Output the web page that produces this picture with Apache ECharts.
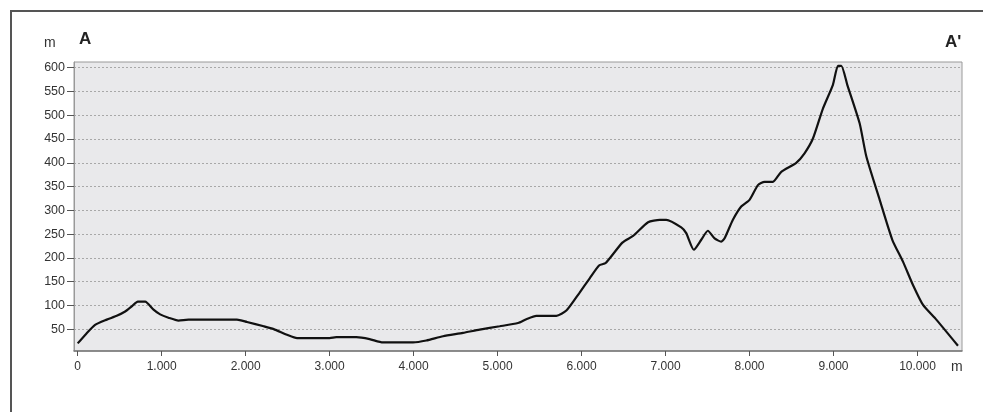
<!DOCTYPE html>
<html>
<head>
<meta charset="utf-8">
<script src="https://cdn.jsdelivr.net/npm/echarts@6/dist/echarts.min.js"></script>
<style>
html,body{margin:0;padding:0;background:#fff;}
#c{width:983px;height:412px;}
</style>
</head>
<body>
<div id="c"></div>
<script>
const distance = [0, 100, 207, 346, 465, 565, 644, 716, 803, 903, 982, 1081, 1200, 1320, 1459, 1896, 2016, 2215, 2334, 2493, 2612, 3000, 3080, 3318, 3476, 3635, 3993, 4151, 4350, 4588, 4787, 5025, 5243, 5342, 5461, 5700, 5819, 5977, 6097, 6208, 6287, 6486, 6613, 6792, 6931, 7008, 7187, 7246, 7337, 7425, 7504, 7584, 7663, 7703, 7802, 7901, 8000, 8100, 8179, 8278, 8378, 8556, 8655, 8755, 8874, 8993, 9053, 9093, 9164, 9311, 9391, 9550, 9700, 9827, 9946, 10066, 10224, 10482];
const elevation = [20, 40, 59, 70, 78, 87, 98, 108, 108, 91, 81, 74, 68, 70, 70, 70, 65, 56, 50, 38, 31, 31, 33, 33, 29, 22, 22, 26, 35, 42, 49, 56, 63, 71, 78, 78, 89, 127, 157, 184, 189, 232, 246, 275, 280, 280, 264, 252, 217, 238, 257, 241, 234, 241, 280, 308, 322, 353, 360, 360, 381, 400, 420, 451, 514, 564, 604, 604, 564, 483, 413, 322, 238, 192, 143, 101, 70, 15];
const xTicks = [0, 1000, 2000, 3000, 4000, 5000, 6000, 7000, 8000, 9000, 10000];
const yTicks = [50, 100, 150, 200, 250, 300, 350, 400, 450, 500, 550, 600];
const startLabel = 'A';
const endLabel = "A'";
const unit = 'm';

const chart = echarts.init(document.getElementById('c'), null, {renderer: 'canvas'});
const font = 'Liberation Sans, Arial, sans-serif';
chart.setOption({
  animation: false,
  backgroundColor: '#ffffff',
  grid: {
    left: 74, top: 62, width: 888, height: 289,
    show: true, backgroundColor: '#e9e9eb', borderColor: '#9a9a9a', borderWidth: 1,
    containLabel: false
  },
  xAxis: {
    type: 'value', min: -44, max: 10530,
    axisLine: {show: true, onZero: false, lineStyle: {color: '#777', width: 1.5}},
    axisTick: {show: true, length: 5, customValues: xTicks, lineStyle: {color: '#555'}},
    axisLabel: {
      customValues: xTicks, margin: 10, color: '#333', fontSize: 12, fontFamily: font,
      formatter: v => v === 0 ? '0' : (v / 1000).toFixed(3)
    },
    splitLine: {show: false}
  },
  yAxis: {
    type: 'value', min: 4, max: 612,
    axisLine: {show: true, onZero: false, lineStyle: {color: '#999'}},
    axisTick: {show: true, length: 7, customValues: yTicks, lineStyle: {color: '#555'}},
    axisLabel: {customValues: yTicks, margin: 9, color: '#333', fontSize: 12.5, fontFamily: font},
    splitLine: {show: true, lineStyle: {color: '#a8a8a8', type: [2, 2], width: 1}}
  },
  graphic: [
    {type: 'rect', shape: {x: 11, y: 11, width: 990, height: 420}, style: {fill: 'none', stroke: '#555', lineWidth: 2}, silent: true},
    {type: 'text', left: 44, top: 36, style: {text: unit, fill: '#333', font: '14px ' + font}},
    {type: 'text', left: 79, top: 31, style: {text: startLabel, fill: '#222', font: 'bold 17px ' + font}},
    {type: 'text', left: 945, top: 34, style: {text: endLabel, fill: '#222', font: 'bold 17px ' + font}},
    {type: 'text', left: 951, top: 360, style: {text: unit, fill: '#333', font: '14px ' + font}}
  ],
  series: [{
    type: 'line',
    data: distance.map((d, i) => [d, elevation[i]]),
    showSymbol: false,
    smooth: 0.2,
    lineStyle: {color: '#111', width: 2.2},
    clip: true
  }]
});
</script>
</body>
</html>
